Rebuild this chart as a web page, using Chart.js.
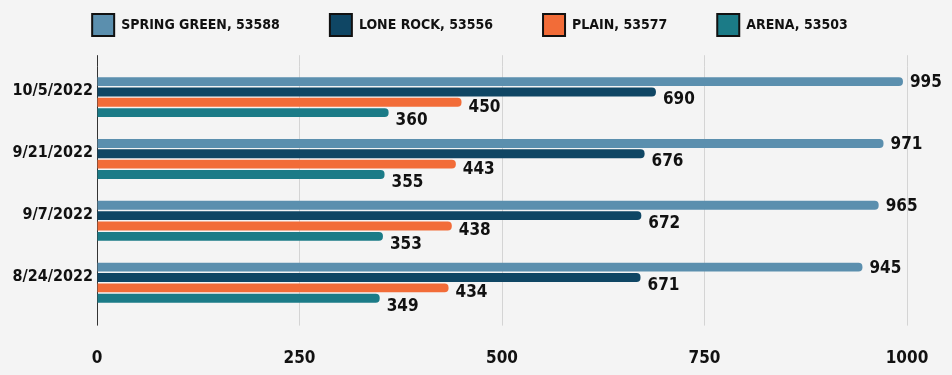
<!DOCTYPE html>
<html>
<head>
<meta charset="utf-8">
<script src="https://cdn.jsdelivr.net/npm/chart.js@4"></script>
<style>
  html, body { margin: 0; padding: 0; background: #f4f4f4; }
  #wrap { width: 952px; height: 375px; }
</style>
</head>
<body>
<div id="wrap"><canvas id="chart"></canvas></div>
<script>
// values
const dates = ['10/5/2022', '9/21/2022', '9/7/2022', '8/24/2022'];
const seriesNames = ['SPRING GREEN, 53588', 'LONE ROCK, 53556', 'PLAIN, 53577', 'ARENA, 53503'];
const springGreen = [995, 971, 965, 945];
const loneRock = [690, 676, 672, 671];
const plain = [450, 443, 438, 434];
const arena = [360, 355, 353, 349];
const xTicks = [0, 250, 500, 750, 1000];

const colors = ['#5b8fae', '#0f4664', '#f26c38', '#1b7b87'];
const FONT = "'DejaVu Sans Condensed', 'DejaVu Sans', sans-serif";

// label drop per series (the original nudges some labels down)
const labelDrop = [1, 8, 5, 8];

const valueLabels = {
  id: 'valueLabels',
  afterDatasetsDraw(chart) {
    const ctx = chart.ctx;
    ctx.save();
    ctx.font = 'bold 17px ' + FONT;
    ctx.fillStyle = '#111';
    ctx.textAlign = 'left';
    ctx.textBaseline = 'middle';
    chart.data.datasets.forEach((ds, i) => {
      chart.getDatasetMeta(i).data.forEach((bar, j) => {
        ctx.fillText(ds.data[j], bar.x + 7, bar.y + labelDrop[i]);
      });
    });
    ctx.restore();
  }
};

const gridColor = (c) => c.tick && c.tick.value === 0 ? '#333' : '#d4d4d4';

const allSeries = [springGreen, loneRock, plain, arena];

new Chart(document.getElementById('chart'), {
  type: 'bar',
  data: {
    labels: dates,
    datasets: allSeries.map((vals, i) => ({
      label: seriesNames[i],
      data: vals,
      backgroundColor: colors[i],
      borderWidth: 0,
      borderRadius: 4,
      borderSkipped: 'start',
      categoryPercentage: 0.67,
      barPercentage: 0.86
    }))
  },
  options: {
    indexAxis: 'y',
    responsive: true,
    maintainAspectRatio: false,
    animation: false,
    layout: { autoPadding: false, padding: { top: -36, left: 12, right: 24, bottom: -17 } },
    plugins: {
      tooltip: { enabled: false },
      legend: {
        position: 'top',
        labels: {
          boxWidth: 22,
          boxHeight: 22,
          padding: 50,
          color: '#111',
          font: { family: FONT, size: 14, weight: 'bold' },
          generateLabels(chart) {
            return Chart.defaults.plugins.legend.labels.generateLabels(chart).map(l => {
              l.strokeStyle = '#111';
              l.lineWidth = 2;
              return l;
            });
          }
        }
      }
    },
    scales: {
      x: {
        type: 'linear',
        position: 'bottom',
        min: 0,
        max: 1000,
        afterBuildTicks: (s) => { s.ticks = xTicks.map(v => ({ value: v })); },
        border: { display: false },
        grid: { color: gridColor, tickColor: gridColor, tickLength: 12 },
        ticks: {
          padding: 23,
          maxRotation: 0,
          color: '#111',
          font: { family: FONT, size: 17, weight: 'bold' },
          callback: (v) => String(v)
        }
      },
      x2: {
        type: 'linear',
        position: 'top',
        min: 0,
        max: 1000,
        afterBuildTicks: (s) => { s.ticks = xTicks.map(v => ({ value: v })); },
        border: { display: false },
        grid: { drawOnChartArea: false, color: gridColor, tickColor: gridColor, tickLength: 11 },
        ticks: { callback: () => '', padding: 4, font: { size: 1 } }
      },
      y: {
        afterFit: (s) => { s.width = 85; },
        border: { display: false },
        grid: { display: false, drawTicks: false },
        ticks: {
          padding: 4,
          labelOffset: -6,
          color: '#111',
          font: { family: FONT, size: 16, weight: 'bold' }
        }
      },
      // empty strip on the right so the legend sits where the original has it
      y2: {
        position: 'right',
        afterFit: (s) => { s.width = 21; },
        border: { display: false },
        grid: { display: false, drawTicks: false },
        ticks: { display: false }
      }
    }
  },
  plugins: [valueLabels]
});
</script>
</body>
</html>
